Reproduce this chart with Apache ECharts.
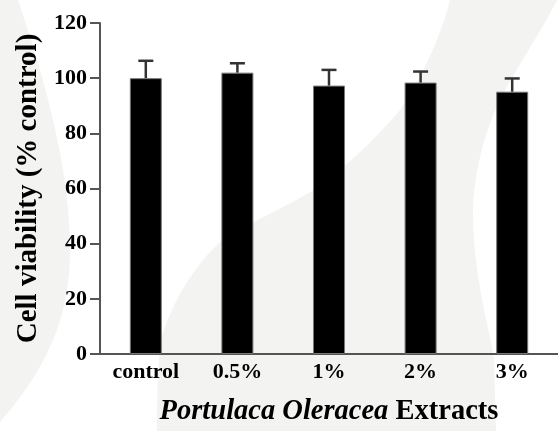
<!DOCTYPE html>
<html>
<head>
<meta charset="utf-8">
<script src="https://cdn.jsdelivr.net/npm/echarts@6/dist/echarts.min.js"></script>
<style>html,body{margin:0;padding:0;background:#fff;}#c{width:558px;height:431px;}</style>
</head>
<body>
<div id="c"></div>
<script>
var categories = ['control', '0.5%', '1%', '2%', '3%'];
var means = [100, 102, 97.3, 98.4, 95.1];
var errors = [6.3, 3.4, 5.7, 4.0, 4.8];
var yTicks = [0, 20, 40, 60, 80, 100, 120];

// background watermark outlines (decoration only)
function bez(segs) {
  var pts = [[segs[0][0], segs[0][1]]];
  var cur = pts[0];
  for (var s = 1; s < segs.length; s++) {
    var g = segs[s];
    if (g[0] === 'L') { cur = [g[1], g[2]]; pts.push(cur); }
    else {
      var p0 = cur;
      for (var k = 1; k <= 16; k++) {
        var t = k / 16, u = 1 - t;
        var x = u*u*u*p0[0] + 3*u*u*t*g[1] + 3*u*t*t*g[3] + t*t*t*g[5];
        var y = u*u*u*p0[1] + 3*u*u*t*g[2] + 3*u*t*t*g[4] + t*t*t*g[6];
        pts.push([x, y]);
      }
      cur = [g[5], g[6]];
    }
  }
  return pts;
}
var leftShape = bez([[0,0],['L',18,0],['C',45,80,70,170,70,250],['C',70,320,45,370,0,422]]);
var midShape = bez([[450,0],['L',557,0],['C',545,25,515,70,500,100],['C',480,140,472,190,473,217],
  ['C',474,280,490,330,494,360],['L',496,431],['L',157,431],['C',157,390,158,350,163,333],
  ['C',172,305,190,270,222,240],['C',245,225,290,205,317,188],['C',340,172,375,140,400,110],
  ['C',420,80,440,40,450,0]]);

var FONT = '"Liberation Serif", "Times New Roman", serif';
var chart = echarts.init(document.getElementById('c'));
chart.setOption({
  backgroundColor: '#ffffff',
  animation: false,
  graphic: {
    elements: [
      { type: 'polygon', z: -10, silent: true, shape: { points: leftShape }, style: { fill: '#f3f3f2' } },
      { type: 'polygon', z: -10, silent: true, shape: { points: midShape }, style: { fill: '#f3f3f2' } }
    ]
  },
  grid: { left: 100, top: 23, width: 467, height: 336 },
  xAxis: {
    type: 'category',
    data: categories,
    axisLine: { lineStyle: { color: '#555', width: 2 } },
    axisTick: { show: false },
    axisLabel: { color: '#000', fontFamily: FONT, fontWeight: 'bold', fontSize: 22, margin: 7 },
    name: '{i|Portulaca Oleracea}{b| Extracts}',
    nameLocation: 'middle',
    nameGap: 43,
    nameTextStyle: {
      rich: {
        i: { fontFamily: FONT, fontWeight: 'bold', fontStyle: 'italic', fontSize: 28.5, color: '#000' },
        b: { fontFamily: FONT, fontWeight: 'bold', fontSize: 28.5, color: '#000' }
      }
    }
  },
  yAxis: {
    type: 'value',
    min: yTicks[0],
    max: yTicks[yTicks.length - 1],
    interval: 20,
    splitLine: { show: false },
    axisLine: { show: true, lineStyle: { color: '#555', width: 2 } },
    axisTick: { show: true, length: 10, lineStyle: { color: '#555', width: 2 } },
    axisLabel: { color: '#000', fontFamily: FONT, fontWeight: 'bold', fontSize: 22, margin: 13 },
    name: 'Cell viability (% control)',
    nameLocation: 'middle',
    nameGap: 55,
    nameTextStyle: { fontFamily: FONT, fontWeight: 'bold', fontSize: 29, color: '#000' }
  },
  series: [
    {
      type: 'bar',
      data: means,
      barWidth: 32,
      itemStyle: { color: '#000', borderColor: '#777', borderWidth: 1 },
      z: 2
    },
    {
      type: 'custom',
      z: 3,
      data: means.map(function (m, i) { return [i, m, m + errors[i]]; }),
      renderItem: function (params, api) {
        var i = api.value(0);
        var lo = api.coord([i, api.value(1)]);
        var hi = api.coord([i, api.value(2)]);
        var style = { stroke: '#333', lineWidth: 2.5 };
        return {
          type: 'group',
          children: [
            { type: 'line', shape: { x1: lo[0], y1: lo[1], x2: hi[0], y2: hi[1] }, style: style },
            { type: 'line', shape: { x1: hi[0] - 7.5, y1: hi[1], x2: hi[0] + 7.5, y2: hi[1] }, style: style }
          ]
        };
      }
    }
  ]
});
</script>
</body>
</html>
